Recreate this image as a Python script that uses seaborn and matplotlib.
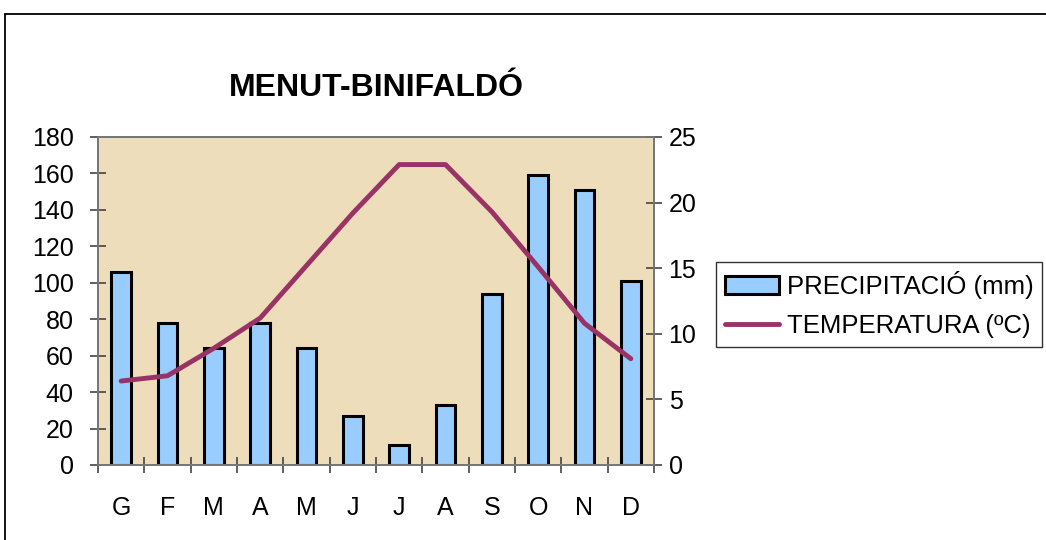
import numpy as np
import seaborn as sns
import matplotlib.pyplot as plt
from matplotlib.lines import Line2D
from matplotlib.ticker import FixedLocator

# Climate data
months = ['G', 'F', 'M', 'A', 'M', 'J', 'J', 'A', 'S', 'O', 'N', 'D']
precip = [106, 78, 64, 78, 64, 27, 11, 33, 94, 159, 151, 101]
temp = [6.4, 6.8, 8.9, 11.2, 15.2, 19.2, 22.9, 22.9, 19.3, 15.1, 10.8, 8.1]
precip_ticks = [0, 20, 40, 60, 80, 100, 120, 140, 160, 180]
temp_ticks = [0, 5, 10, 15, 20, 25]

sns.set_style("white")
plt.rcParams['font.family'] = ['Liberation Sans', 'DejaVu Sans']
plt.rcParams.update({'text.color': 'black', 'xtick.color': 'black', 'ytick.color': 'black'})

fig = plt.figure(figsize=(10.46, 5.40), dpi=100)
ax = fig.add_axes([98/1046, 1 - 465/540, 556/1046, 328/540])
ax.set_facecolor('#EDDDBA')

pos = np.arange(len(months))
sns.barplot(x=pos, y=precip, ax=ax, color='#99CCFF', width=0.42,
            edgecolor='black', linewidth=2.2, saturation=1)
ax.set_xlim(-0.5, len(months) - 0.5)
ax.set_ylim(0, 180)
ax.set_yticks(precip_ticks)
ax.set_xticks(pos)
ax.set_xticklabels(months)
ax.xaxis.set_minor_locator(FixedLocator(np.arange(-0.5, len(months), 1)))
ax.tick_params(axis='x', which='major', length=0, pad=22, labelsize=18)
ax.tick_params(axis='x', which='minor', length=11, width=1.2, direction='inout',
               color='#444444', bottom=True)
ax.tick_params(axis='y', length=11, width=1.2, direction='inout', color='#444444',
               left=True, pad=12, labelsize=18)
ax.set_xlabel('')
ax.set_ylabel('')

# Temperature on a second axis
ax2 = ax.twinx()
sns.lineplot(x=pos, y=temp, ax=ax2, color='#993366', linewidth=3.5)
ax2.set_ylim(0, 25)
ax2.set_yticks(temp_ticks)
ax2.tick_params(axis='y', length=11, width=1.2, direction='inout', color='#444444',
                right=True, pad=5, labelsize=18)
ax2.set_ylabel('')

for a in (ax, ax2):
    for s in a.spines.values():
        s.set_color('#777777')
        s.set_linewidth(1.3)

fig.text((98 + 654) / 2 / 1046, 1 - 88/540, 'MENUT-BINIFALDÓ', ha='center', va='center',
         fontsize=23, weight='bold')

leg = fig.legend(handles=[ax.patches[0], ax2.lines[0]],
                 labels=['PRECIPITACIÓ (mm)', 'TEMPERATURA (ºC)'],
                 loc='upper left', bbox_to_anchor=(716/1046, 1 - 262/540),
                 fontsize=18.5, frameon=True, fancybox=False, borderaxespad=0,
                 borderpad=0.35, handlelength=2.1, handletextpad=0.3, labelspacing=0.6)
leg.get_frame().set_edgecolor('black')
leg.get_frame().set_linewidth(1.0)

# outer chart frame (top and left edges visible)
fig.add_artist(Line2D([5/1046, 1], [1 - 14/540, 1 - 14/540], transform=fig.transFigure,
                      color='black', lw=1.3))
fig.add_artist(Line2D([5/1046, 5/1046], [0, 1 - 14/540], transform=fig.transFigure,
                      color='black', lw=1.3))

fig.savefig('out.png', dpi=100)
